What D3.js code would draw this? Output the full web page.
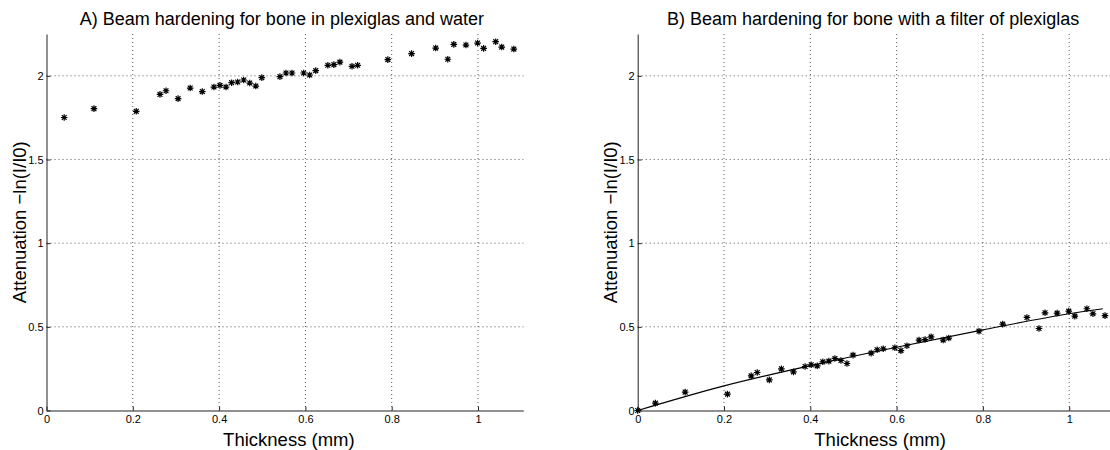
<!DOCTYPE html>
<html>
  <head>
    <meta charset="utf-8">
    <title>Beam hardening</title>
    <script src="https://cdn.jsdelivr.net/npm/d3@7"></script>
    <style>
      body { margin: 0; background: #fff; }
      svg { font-family: "Liberation Sans", Arial, sans-serif; }
      .tick text { font-size: 11px; fill: #000; }
      .grid line { stroke: #555; stroke-width: 1; stroke-dasharray: 1,3; }
      .axisLine { stroke: #222; stroke-width: 1; }
      .title { font-size: 18px; }
      .axisLabel { font-size: 18.5px; }
    </style>
  </head>
  <body>
    <svg id="chart" width="1110" height="450"></svg>
    <script>
      // data
      thickness = [0.041, 0.110, 0.208, 0.263, 0.277, 0.305, 0.333, 0.361, 0.388, 0.402,
        0.416, 0.429, 0.443, 0.457, 0.471, 0.485, 0.499, 0.541, 0.555, 0.569,
        0.596, 0.610, 0.624, 0.652, 0.666, 0.680, 0.708, 0.721, 0.791, 0.846,
        0.902, 0.930, 0.944, 0.972, 0.999, 1.013, 1.041, 1.055, 1.083];
      attenA = [1.751, 1.804, 1.788, 1.889, 1.911, 1.864, 1.927, 1.906, 1.933, 1.943,
        1.933, 1.959, 1.963, 1.975, 1.957, 1.939, 1.989, 1.995, 2.017, 2.017,
        2.017, 2.005, 2.031, 2.063, 2.067, 2.082, 2.057, 2.063, 2.097, 2.133,
        2.166, 2.099, 2.188, 2.184, 2.196, 2.164, 2.204, 2.172, 2.160];
      thicknessB = [0].concat(thickness);
      attenB = [0, 0.044, 0.110, 0.098, 0.207, 0.227, 0.183, 0.249, 0.231, 0.263,
        0.273, 0.267, 0.291, 0.295, 0.311, 0.299, 0.281, 0.331, 0.343, 0.363,
        0.369, 0.375, 0.358, 0.387, 0.421, 0.424, 0.440, 0.421, 0.433, 0.474,
        0.516, 0.556, 0.490, 0.584, 0.582, 0.594, 0.564, 0.608, 0.578, 0.567];
      fitX = [0, 0.2, 0.4, 0.6, 0.8, 1.0, 1.078];
      fitY = [0, 0.147, 0.268, 0.378, 0.482, 0.578, 0.608];
      xTicks = [0, 0.2, 0.4, 0.6, 0.8, 1];
      yTicks = [0, 0.5, 1, 1.5, 2];
      titles = ["A) Beam hardening for bone in plexiglas and water",
        "B) Beam hardening for bone with a filter of plexiglas"];

      svg = d3.select("#chart");
      top_ = 34; bottom = 410.5;
      panels = [
        { left: 46.5, xs: thickness, ys: attenA, fit: false, title: titles[0] },
        { left: 637.7, xs: thicknessB, ys: attenB, fit: true, title: titles[1] }
      ];
      fmt = function(d) { return d === 0 ? "0" : String(d); };
      star = "M-3.3,0L3.3,0M0,-3.3L0,3.3M-2.4,-2.4L2.4,2.4M-2.4,2.4L2.4,-2.4";

      panels.forEach(function(p) {
        var x = d3.scaleLinear().domain([0, 1.105]).range([p.left, p.left + 1.105 * 431.5]);
        var y = d3.scaleLinear().domain([0, 2.25]).range([bottom, top_]);
        var g = svg.append("g");
        var mid = (x.range()[0] + x.range()[1]) / 2;

        // grid
        var grid = g.append("g").attr("class", "grid");
        grid.selectAll(".gx").data(xTicks.slice(1)).join("line")
          .attr("x1", function(d) { return x(d); }).attr("x2", function(d) { return x(d); })
          .attr("y1", top_).attr("y2", bottom);
        grid.selectAll(".gy").data(yTicks.slice(1)).join("line")
          .attr("class", "gy")
          .attr("y1", function(d) { return y(d); }).attr("y2", function(d) { return y(d); })
          .attr("x1", x.range()[0]).attr("x2", x.range()[1]);

        // axes, ticks pointing inward like matlab
        var xAxis = d3.axisBottom(x).tickValues(xTicks).tickFormat(fmt)
          .tickSizeInner(-4).tickSizeOuter(0).tickPadding(4);
        var yAxis = d3.axisLeft(y).tickValues(yTicks).tickFormat(fmt)
          .tickSizeInner(-4).tickSizeOuter(0).tickPadding(7);
        var gx = g.append("g").attr("transform", "translate(0," + bottom + ")").call(xAxis);
        var gy = g.append("g").attr("transform", "translate(" + p.left + ",0)").call(yAxis);
        [gx, gy].forEach(function(a) {
          a.select(".domain").attr("class", "axisLine domain");
          a.selectAll(".tick line").attr("stroke", "#222");
        });
        gx.selectAll(".tick text").attr("dy", "0.8em");
        gy.selectAll(".tick text").attr("x", -3);

        // fitted curve
        if (p.fit) {
          g.append("path")
            .datum(d3.zip(fitX, fitY))
            .attr("fill", "none")
            .attr("stroke", "#000")
            .attr("stroke-width", 1.2)
            .attr("d", d3.line()
              .x(function(d) { return x(d[0]); })
              .y(function(d) { return y(d[1]); })
              .curve(d3.curveMonotoneX));
        }

        // asterisk markers
        g.selectAll(".pt").data(d3.zip(p.xs, p.ys)).join("path")
          .attr("class", "pt")
          .attr("d", star)
          .attr("transform", function(d) { return "translate(" + x(d[0]) + "," + y(d[1]) + ")"; })
          .attr("stroke", "#000")
          .attr("stroke-width", 1.2)
          .attr("fill", "none");

        // labels
        g.append("text").attr("class", "title")
          .attr("x", mid - 3).attr("y", 25).attr("text-anchor", "middle")
          .text(p.title);
        g.append("text").attr("class", "axisLabel")
          .attr("x", mid + 4).attr("y", 446).attr("text-anchor", "middle")
          .text("Thickness (mm)");
        g.append("text").attr("class", "axisLabel")
          .attr("transform", "translate(" + (p.left - 21) + "," + ((top_ + bottom) / 2) + ") rotate(-90)")
          .attr("text-anchor", "middle")
          .text("Attenuation −ln(I/I0)");
      });
    </script>
  </body>
</html>
